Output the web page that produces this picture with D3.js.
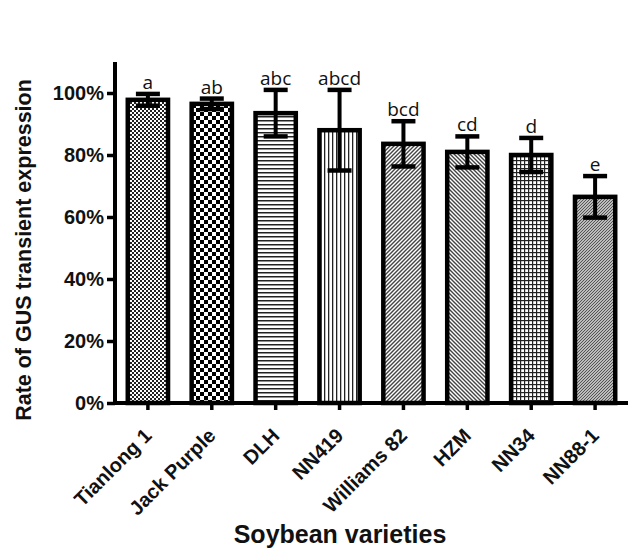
<!DOCTYPE html>
<html><head><meta charset="utf-8">
<script src="https://cdn.jsdelivr.net/npm/d3@7"></script>
<style>body{margin:0;background:#fff}svg{display:block}</style>
</head><body>
<script>
const categories = ["Tianlong 1","Jack Purple","DLH","NN419","Williams 82","HZM","NN34","NN88-1"];
const means = [97.8, 96.5, 93.5, 88.0, 83.6, 81.0, 80.0, 66.5];
const sds = [1.9, 1.7, 7.5, 13.0, 7.3, 5.0, 5.5, 6.7];
const letters = ["a","ab","abc","abcd","bcd","cd","d","e"];
const yTicks = [0,20,40,60,80,100];
const patternIds = ["pChk2","pChk4","pHor","pVer","pDiagR","pDiagL","pGrid","pFine"];

const W=638,H=557;
const svg=d3.select("body").append("svg").attr("width",W).attr("height",H);
const defs=svg.append("defs");
function pat(id,size){return defs.append("pattern").attr("id",id).attr("patternUnits","userSpaceOnUse").attr("width",size).attr("height",size);}
let p;
p=pat("pChk2",4);p.append("rect").attr("width",4).attr("height",4).attr("fill","#fff");
p.append("rect").attr("width",2).attr("height",2).attr("fill","#222");p.append("rect").attr("x",2).attr("y",2).attr("width",2).attr("height",2).attr("fill","#222");
p=pat("pChk4",8);p.append("rect").attr("width",8).attr("height",8).attr("fill","#fff");
p.append("rect").attr("width",4).attr("height",4).attr("fill","#000");p.append("rect").attr("x",4).attr("y",4).attr("width",4).attr("height",4).attr("fill","#000");
p=pat("pHor",4);p.append("rect").attr("width",4).attr("height",4).attr("fill","#fff");p.append("rect").attr("width",4).attr("height",1.5).attr("fill","#222");
p=pat("pVer",4);p.append("rect").attr("width",4).attr("height",4).attr("fill","#fff");p.append("rect").attr("width",1.3).attr("height",4).attr("fill","#222");
p=pat("pDiagR",4);p.append("rect").attr("width",4).attr("height",4).attr("fill","#fff");
p.append("path").attr("d","M-1,1 L1,-1 M0,4 L4,0 M3,5 L5,3").attr("stroke","#444").attr("stroke-width",1.4);
p=pat("pDiagL",4);p.append("rect").attr("width",4).attr("height",4).attr("fill","#fff");
p.append("path").attr("d","M-1,3 L1,5 M0,0 L4,4 M3,-1 L5,1").attr("stroke","#444").attr("stroke-width",1.4);
p=pat("pGrid",4);p.append("rect").attr("width",4).attr("height",4).attr("fill","#fff");
p.append("rect").attr("width",4).attr("height",1.2).attr("fill","#222");p.append("rect").attr("width",1.2).attr("height",4).attr("fill","#222");
p=pat("pFine",3);p.append("rect").attr("width",3).attr("height",3).attr("fill","#bbb");
p.append("path").attr("d","M0,3 L3,0").attr("stroke","#555").attr("stroke-width",1);

const x=d3.scaleBand().domain(categories).range([115,628]).paddingInner(0.37).paddingOuter(0.2);
const y=d3.scaleLinear().domain([0,110]).range([403,62]);

// bars
svg.selectAll("rect.bar").data(categories).enter().append("rect").attr("class","bar")
 .attr("x",d=>x(d)).attr("width",x.bandwidth())
 .attr("y",(d,i)=>y(means[i])).attr("height",(d,i)=>y(0)-y(means[i]))
 .attr("fill",(d,i)=>`url(#${patternIds[i]})`).attr("stroke","#000").attr("stroke-width",4.5);

// error bars
const eb=svg.selectAll("g.eb").data(categories).enter().append("g");
eb.append("line").attr("x1",d=>x(d)+x.bandwidth()/2).attr("x2",d=>x(d)+x.bandwidth()/2)
 .attr("y1",(d,i)=>y(means[i]+sds[i])).attr("y2",(d,i)=>y(means[i]-sds[i])).attr("stroke","#000").attr("stroke-width",4);
eb.selectAll("line.cap").data((d,i)=>[{d,v:means[i]+sds[i]},{d,v:means[i]-sds[i]}]).enter().append("line")
 .attr("x1",o=>x(o.d)+x.bandwidth()/2-12).attr("x2",o=>x(o.d)+x.bandwidth()/2+12)
 .attr("y1",o=>y(o.v)).attr("y2",o=>y(o.v)).attr("stroke","#000").attr("stroke-width",4.5);

// letters
svg.selectAll("text.let").data(categories).enter().append("text")
 .attr("x",d=>x(d)+x.bandwidth()/2).attr("y",(d,i)=>y(means[i]+sds[i])-5)
 .attr("text-anchor","middle").attr("font-family","Open Sans, Liberation Sans, sans-serif").attr("font-size",19).attr("fill","#111")
 .text((d,i)=>letters[i]);

// y axis
const ya=svg.append("g").attr("transform","translate(115,0)")
 .call(d3.axisLeft(y).tickValues(yTicks).tickFormat(d=>d+"%").tickSize(8).tickPadding(3));
ya.select(".domain").attr("stroke-width",4).attr("d",`M0,${y(110)}V${y(0)+2}`);
ya.selectAll(".tick line").attr("stroke-width",3.5);
ya.selectAll(".tick text").attr("font-family","Liberation Sans, Arial, sans-serif").attr("font-weight","bold").attr("font-size",20).attr("fill","#111");

// x axis
const xa=svg.append("g").attr("transform",`translate(0,${y(0)})`)
 .call(d3.axisBottom(x).tickSize(7).tickPadding(4));
xa.select(".domain").attr("stroke-width",4).attr("d",`M113,0H628`);
xa.selectAll(".tick line").attr("stroke-width",3.5);
xa.selectAll(".tick text").attr("font-family","Liberation Sans, Arial, sans-serif").attr("font-weight","bold").attr("font-size",20).attr("fill","#111")
 .attr("text-anchor","end").attr("x",0).attr("y",0).attr("dy",0).attr("transform","translate(5,34) rotate(-45)");

// titles
svg.append("text").attr("x",340).attr("y",543).attr("text-anchor","middle")
 .attr("font-family","Liberation Sans, Arial, sans-serif").attr("font-weight","bold").attr("font-size",25).attr("fill","#111").text("Soybean varieties");
svg.append("text").attr("transform","translate(31,250) rotate(-90)").attr("text-anchor","middle")
 .attr("font-family","Liberation Sans, Arial, sans-serif").attr("font-weight","bold").attr("font-size",21.5).attr("fill","#111").text("Rate of GUS transient expression");
</script>
</body></html>
